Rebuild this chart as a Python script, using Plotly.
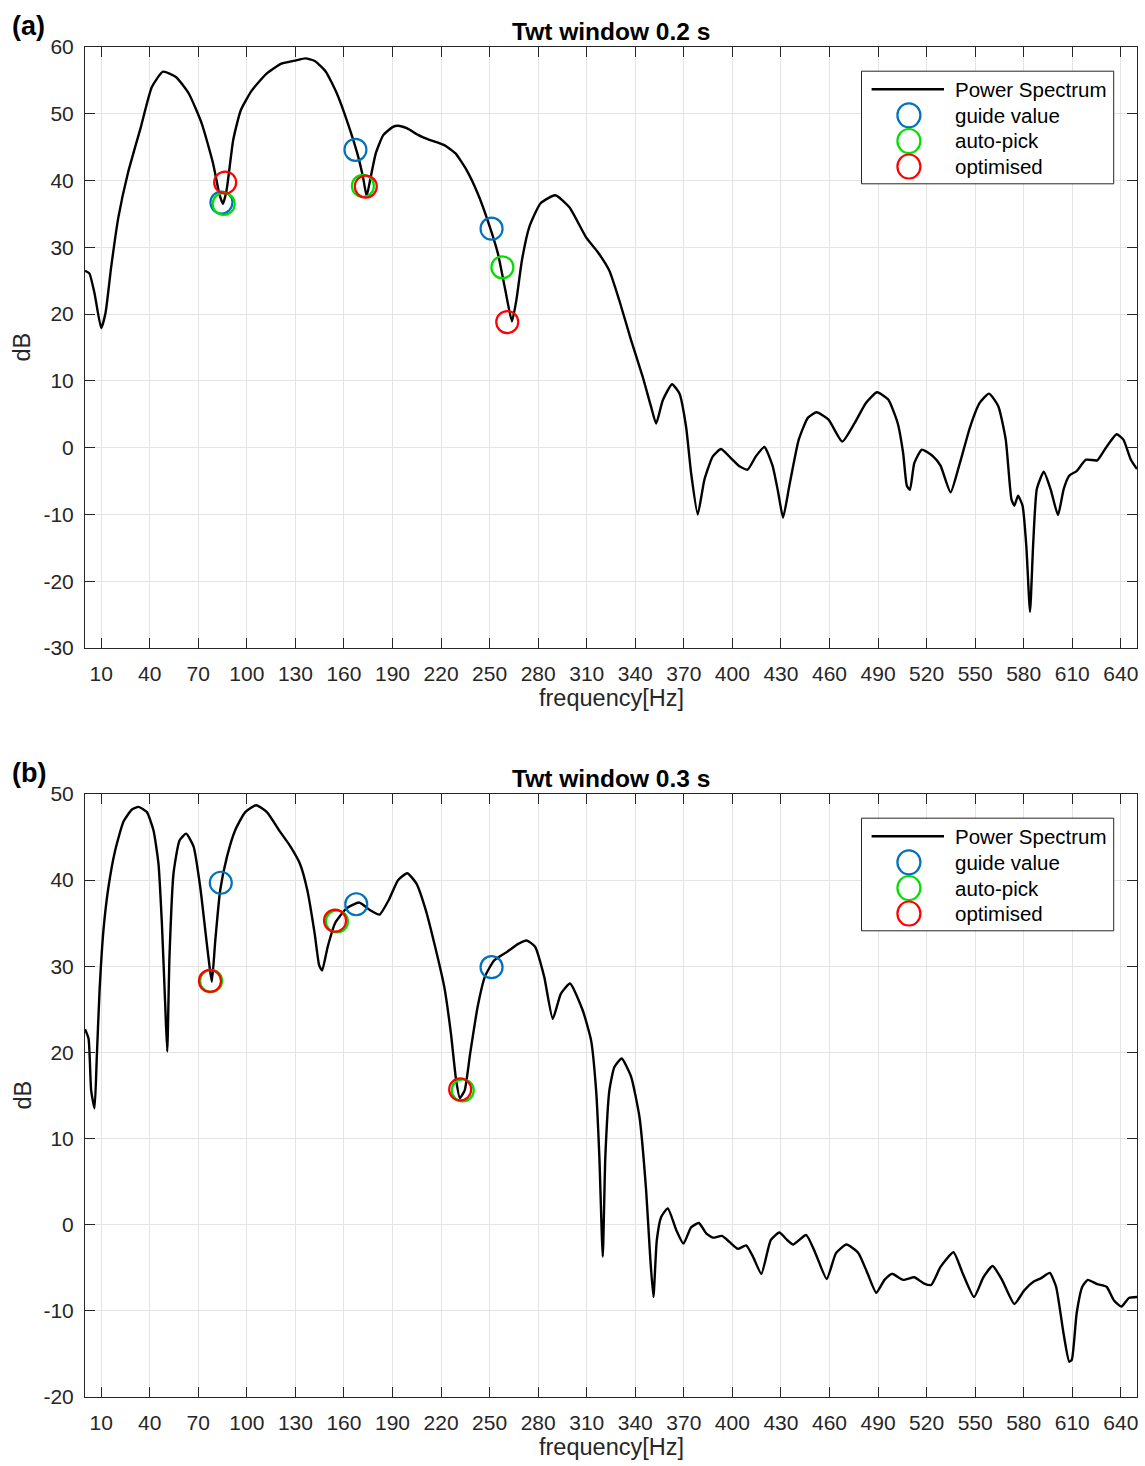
import plotly.graph_objects as go

# ---------------- data ----------------
freq_a = [0, 2.7, 5.9, 10, 12.7, 16.2, 20.7, 26.5, 34.5, 41.3,
          48.2, 56.2, 64.2, 72.2, 79.1, 82.9, 85.2, 87.5, 91.6, 96.2,
          103.1, 112.2, 121.4, 130.5, 136.2, 142, 148.8, 155.7, 162.5, 168.2,
          171.7, 174, 176.2, 179.7, 184.3, 190, 193.4, 199.1, 206, 212.8,
          222, 228.8, 235.7, 242.6, 249.4, 255.1, 259.7, 263.8, 266.6, 270,
          274.6, 281.5, 290.6, 299.3, 309.6, 316.8, 324, 330.2, 337.4, 344.6,
          349.8, 352.9, 357, 362.7, 367.3, 371.4, 374.5, 378.6, 382.7, 387.9,
          393, 399.2, 404.4, 409.4, 414.5, 419.8, 424.8, 428.3, 431.3, 435.2,
          441, 446.7, 452, 459.4, 467.9, 475.6, 482.5, 489.4, 496.3, 502.1,
          505.5, 507.8, 509.7, 512.4, 517.1, 524, 528.6, 534.8, 540.1, 547,
          552.8, 558.6, 564.3, 568.9, 572.4, 574.2, 576.5, 579.3, 581.6, 583.9,
          585.8, 588.1, 592.4, 596.6, 601.2, 604.7, 608.1, 612.7, 618.5, 625.4,
          630, 637.4, 641.6, 646.2, 650]
db_a = [26.5, 26.1, 23.1, 17.9, 20.2, 27.1, 34.6, 41.1, 48.0, 54.0,
        56.3, 55.5, 53.0, 48.5, 42.6, 38.1, 36.5, 38.6, 46.1, 50.5,
        53.5, 56.0, 57.5, 58.0, 58.3, 57.9, 56.3, 53.0, 48.5, 44.1,
        40.6, 37.7, 40.1, 44.1, 46.8, 48.0, 48.2, 47.8, 46.8, 46.1,
        45.3, 44.1, 41.6, 38.1, 33.6, 29.1, 23.6, 18.9, 22.2, 28.1,
        33.1, 36.6, 37.8, 36.0, 31.5, 29.3, 26.5, 22.0, 16.1, 10.6,
        6.1, 3.6, 7.1, 9.5, 8.1, 3.1, -3.8, -10.0, -4.8, -1.3,
        -0.2, -1.6, -2.8, -3.3, -1.3, 0.1, -2.7, -6.7, -10.5, -5.7,
        1.2, 4.5, 5.3, 4.2, 0.9, 3.7, 6.7, 8.3, 7.2, 3.7,
        -0.8, -5.7, -6.3, -2.3, -0.3, -1.3, -2.7, -6.7, -2.7, 3.2,
        6.7, 8.1, 6.2, 1.2, -7.7, -8.7, -7.2, -8.7, -14.7, -24.6,
        -14.7, -6.2, -3.6, -6.2, -10.1, -6.2, -4.2, -3.5, -1.8, -1.9,
        -0.3, 2.0, 1.2, -1.8, -3.2]

guide_a_f = [84.3, 167.1, 251.2]
guide_a_db = [36.7, 44.6, 32.8]
auto_a_f = [85.7, 171.7, 257.9]
auto_a_db = [36.5, 39.2, 27.0]
opt_a_f = [86.6, 173.5, 260.9]
opt_a_db = [39.7, 39.1, 18.8]

freq_b = [0, 2.2, 3.8, 5.9, 7.3, 9, 11.4, 14.5, 18.7, 23.8,
          29, 33.1, 38.2, 42.3, 45.4, 47.5, 49.6, 50.8, 52.2, 54.7,
          58.4, 62.5, 67.1, 71.2, 74.3, 77, 78.4, 80.5, 83.5, 87.7,
          92.8, 99, 105.8, 112.4, 120.6, 125.9, 132.8, 137.4, 141.9, 144.7,
          146.5, 150, 154.5, 161.4, 169.4, 176.2, 182, 187.7, 193.4, 199.1,
          204.8, 210.6, 216.3, 222, 226.1, 229.3, 231.6, 234.6, 238, 242.6,
          247.1, 252.9, 260.9, 267.7, 272.8, 278, 283.7, 289, 294, 299.7,
          307.5, 312.7, 315.8, 317.8, 319.9, 321.5, 324, 327.1, 331.6, 337.4,
          342.6, 346.7, 349.2, 351.2, 353.3, 356, 360.1, 365.3, 369.8, 374.5,
          379.3, 383.8, 387.9, 393.6, 398.2, 403.4, 408.5, 412.7, 417.9, 423.7,
          429, 434, 437.5, 445.6, 451.3, 458.3, 464, 470.5, 477.9, 483.6,
          488.9, 494, 498.6, 505.5, 512.4, 518.2, 522.8, 528.6, 536.6, 542.4,
          549.3, 555.1, 560.8, 566.6, 574.2, 580.4, 586.2, 590.8, 596.1, 600,
          604.6, 608.1, 609.7, 612.7, 616.2, 619.6, 625.4, 631.2, 635.8, 640.4,
          645, 650]
db_b = [22.7, 21.6, 15.6, 13.5, 19.5, 27.2, 34.2, 39.2, 43.5, 46.8,
        48.2, 48.5, 47.9, 45.8, 41.9, 35.0, 25.3, 20.1, 31.1, 40.8,
        44.6, 45.4, 43.9, 39.2, 34.2, 29.9, 28.2, 33.0, 38.8, 42.7,
        45.8, 47.9, 48.7, 47.9, 45.6, 44.2, 41.9, 38.8, 33.8, 30.1,
        29.5, 32.3, 35.0, 36.7, 37.4, 36.5, 36.0, 37.7, 40.0, 40.8,
        39.6, 36.5, 32.3, 27.6, 22.2, 16.8, 14.7, 15.6, 19.9, 25.3,
        28.8, 30.7, 31.7, 32.6, 33.0, 32.3, 28.8, 23.9, 26.8, 28.0,
        24.9, 21.4, 15.6, 7.9, -3.7, 7.9, 15.6, 18.3, 19.3, 17.2,
        12.5, 4.0, -3.7, -8.4, -1.8, 0.9, 1.9, -0.6, -2.2, -0.3,
        0.2, -1.0, -1.5, -1.3, -2.0, -2.8, -2.4, -3.7, -5.7, -1.8,
        -0.9, -1.8, -2.3, -1.2, -3.3, -6.3, -3.3, -2.3, -3.3, -5.7,
        -7.9, -6.4, -5.7, -6.4, -6.1, -6.8, -7.0, -4.9, -3.2, -5.7,
        -8.4, -6.1, -4.8, -6.4, -9.2, -7.6, -6.6, -6.2, -5.6, -7.2,
        -12.6, -15.9, -15.7, -10.3, -7.2, -6.4, -6.9, -7.2, -8.8, -9.5,
        -8.5, -8.4]

guide_b_f = [83.9, 167.6, 251.2]
guide_b_db = [39.7, 37.2, 29.9]
auto_b_f = [77.9, 155.7, 233.4]
auto_b_db = [28.3, 35.2, 15.6]
opt_b_f = [77.2, 154.5, 231.8]
opt_b_db = [28.3, 35.3, 15.7]

x_ticks = list(range(10, 641, 30))
ya_ticks = list(range(-30, 61, 10))
yb_ticks = list(range(-20, 51, 10))
titles = ["Twt window 0.2 s", "Twt window 0.3 s"]
panel_labels = ["(a)", "(b)"]
legend_names = ["Power Spectrum", "guide value", "auto-pick", "optimised"]

# ---------------- layout geometry ----------------
W, H = 1145, 1466
L, R, T, B = 85, 8, 47, 69
PW, PH = W - L - R, H - T - B


def px(x):
    return (x - L) / PW


def py(y):
    return 1 - (y - T) / PH


tops = [47, 794]
bottoms = [648, 1397]
FONT = "Liberation Sans, Arial, Helvetica, sans-serif"
AX = "#262626"
BLUE, GREEN, RED = "#0072BD", "#00E000", "#FF0000"

fig = go.Figure()

panels = [
    (freq_a, db_a, guide_a_f, guide_a_db, auto_a_f, auto_a_db, opt_a_f, opt_a_db, "x", "y"),
    (freq_b, db_b, guide_b_f, guide_b_db, auto_b_f, auto_b_db, opt_b_f, opt_b_db, "x2", "y2"),
]
for (f, d, gf, gd, af, ad, of, od, xa, ya) in panels:
    fig.add_trace(go.Scatter(x=f, y=d, mode="lines", xaxis=xa, yaxis=ya, name=legend_names[0],
                             line=dict(color="black", width=2.4, shape="spline", smoothing=0.5),
                             showlegend=False, cliponaxis=True))
    for (mx, my, col, nm) in [(gf, gd, BLUE, legend_names[1]), (af, ad, GREEN, legend_names[2]),
                              (of, od, RED, legend_names[3])]:
        fig.add_trace(go.Scatter(x=mx, y=my, mode="markers", xaxis=xa, yaxis=ya, name=nm,
                                 marker=dict(symbol="circle-open", size=22, color=col,
                                             line=dict(width=2.2, color=col)),
                                 showlegend=False))


def xaxis_cfg(anchor):
    return dict(domain=[0, 1], anchor=anchor, range=[0, 650], tickmode="array", tickvals=x_ticks,
                ticktext=[str(v) for v in x_ticks],
                ticks="inside", ticklen=10, tickwidth=1, tickcolor=AX, showline=True, linecolor=AX,
                linewidth=1, mirror="ticks", showgrid=True, gridcolor="#e4e4e4", gridwidth=1,
                zeroline=False, tickfont=dict(size=21, color=AX, family=FONT), ticklabelstandoff=7)


def yaxis_cfg(anchor, dom, rng, tv):
    return dict(domain=dom, anchor=anchor, range=rng, tickmode="array", tickvals=tv,
                ticktext=[str(v) for v in tv],
                ticks="inside", ticklen=10, tickwidth=1, tickcolor=AX, showline=True, linecolor=AX,
                linewidth=1, mirror="ticks", showgrid=True, gridcolor="#e4e4e4", gridwidth=1,
                zeroline=False, tickfont=dict(size=21, color=AX, family=FONT), ticklabelstandoff=6)


fig.update_layout(
    xaxis=xaxis_cfg("y"),
    yaxis=yaxis_cfg("x", [py(bottoms[0]), py(tops[0])], [-30, 60], ya_ticks),
    xaxis2=xaxis_cfg("y2"),
    yaxis2=yaxis_cfg("x2", [py(bottoms[1]), py(tops[1])], [-20, 50], yb_ticks),
)

annotations = []
shapes = []
for i in range(2):
    t, b = tops[i], bottoms[i]
    annotations.append(dict(text="<b>%s</b>" % panel_labels[i], x=px(28.5), y=py(t - 21), xref="paper",
                            yref="paper", showarrow=False, xanchor="center", yanchor="middle",
                            font=dict(size=27, color="black", family=FONT)))
    annotations.append(dict(text="<b>%s</b>" % titles[i], x=0.5, y=py(t - 15.5), xref="paper",
                            yref="paper", showarrow=False, xanchor="center", yanchor="middle",
                            font=dict(size=24.5, color="black", family=FONT)))
    annotations.append(dict(text="frequency[Hz]", x=0.5, y=py(b + 50), xref="paper", yref="paper",
                            showarrow=False, xanchor="center", yanchor="middle",
                            font=dict(size=23.5, color=AX, family=FONT)))
    annotations.append(dict(text="dB", x=px(22), y=py((t + b) / 2), xref="paper", yref="paper",
                            showarrow=False, xanchor="center", yanchor="middle", textangle=-90,
                            font=dict(size=23.5, color=AX, family=FONT)))
    # legend box
    shapes.append(dict(type="rect", xref="paper", yref="paper", x0=px(861.5), x1=px(1113.7),
                       y0=py(t + 24.2), y1=py(t + 136.8), line=dict(color=AX, width=1),
                       fillcolor="white", layer="above"))
    rows = [t + 42.3, t + 68.3, t + 94.0, t + 119.5]
    shapes.append(dict(type="line", xref="paper", yref="paper", x0=px(871.6), x1=px(944),
                       y0=py(rows[0]), y1=py(rows[0]), line=dict(color="black", width=2.4),
                       layer="above"))
    for r, col in zip(rows[1:], [BLUE, GREEN, RED]):
        shapes.append(dict(type="circle", xref="paper", yref="paper", xsizemode="pixel",
                           ysizemode="pixel", xanchor=px(908.9), yanchor=py(r), x0=-11.5, x1=11.5,
                           y0=-12, y1=12, line=dict(color=col, width=2.2), layer="above"))
    for r, nm in zip(rows, legend_names):
        annotations.append(dict(text=nm, x=px(953), y=py(r), xref="paper", yref="paper",
                                showarrow=False, xanchor="left", yanchor="middle",
                                font=dict(size=20.5, color="black", family=FONT)))

fig.update_layout(
    width=W, height=H, margin=dict(l=L, r=R, t=T, b=B, pad=0),
    paper_bgcolor="white", plot_bgcolor="white", showlegend=False,
    font=dict(family=FONT, color=AX, size=20),
    annotations=annotations, shapes=shapes,
)

fig.write_html(
    "out.html",
    config={"displayModeBar": False},
    post_script="document.body.style.margin='0';document.body.style.padding='0';"
                "document.body.style.overflow='hidden';",
)
